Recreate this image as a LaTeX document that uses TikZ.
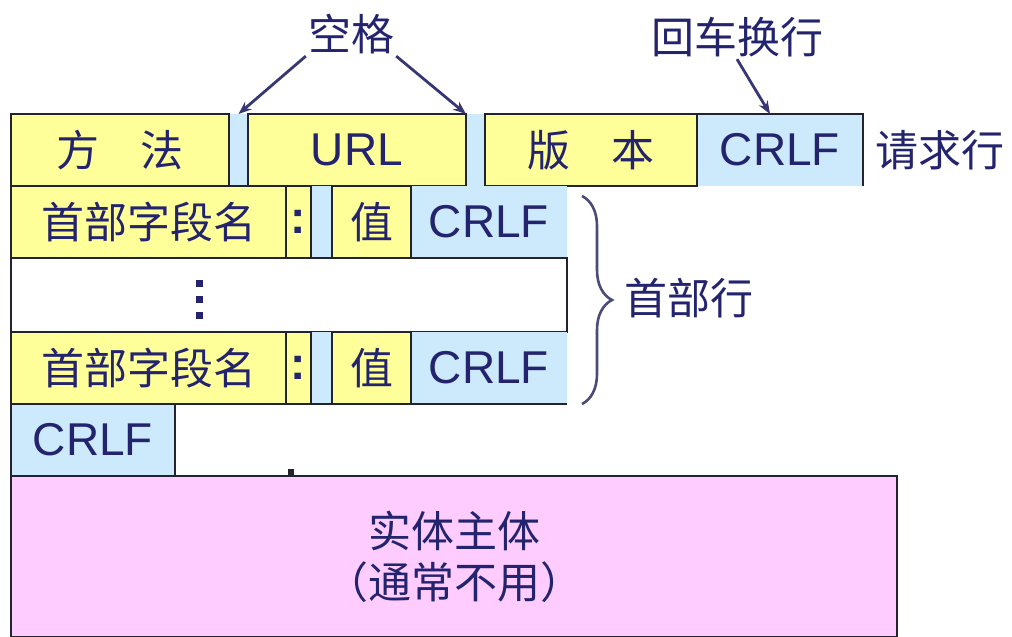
\documentclass[tikz,border=0pt]{standalone}
\usepackage{fontspec}
\setmainfont{Liberation Sans}
\newfontfamily\cjk{Noto Sans CJK SC}
\usetikzlibrary{arrows.meta,decorations.pathreplacing}
\definecolor{ylw}{RGB}{255,255,153}
\definecolor{blu}{RGB}{204,234,252}
\definecolor{pnk}{RGB}{255,204,255}
\definecolor{edgec}{RGB}{35,35,45}
\definecolor{inkc}{RGB}{35,35,110}
\definecolor{arrc}{RGB}{55,55,115}
\definecolor{brcc}{RGB}{75,75,120}
\begin{document}
\begin{tikzpicture}[x=1pt,y=-1pt,
  cell/.style={anchor=north west,inner sep=0pt,outer sep=0pt,text=inkc,minimum height=72pt},
  ycell/.style={cell,fill=ylw,draw=edgec,line width=1.6pt},
  bcell/.style={cell,fill=blu},
  cj/.style={font=\cjk\fontsize{43}{51}\selectfont},
  la/.style={font=\fontsize{46}{52}\selectfont},
  lbl/.style={cj,text=inkc,inner sep=2pt},
  edgeline/.style={draw=edgec,line width=1.6pt},
  arrowline/.style={draw=arrc,line width=2.8pt,-{Stealth[length=13pt,width=10pt]}},
  bracestyle/.style={draw=brcc,line width=2.6pt,decorate,decoration={brace,amplitude=30pt}}
]
\useasboundingbox (0,0) rectangle (1012,637);

% ---- request line ----
\node[bcell,minimum width=19pt] (g1) at (229,114) {};
\node[bcell,minimum width=19pt] (g2) at (466,114) {};
\node[bcell,la,minimum width=166pt] (crlf1) at (697,114) {CRLF\hspace{36pt}};
\node[ycell,cj,minimum width=218pt] (method) at (11,114) {方\hspace{0.95em}法};
\node[ycell,la,minimum width=218pt] (url) at (248,114) {URL};
\node[ycell,cj,minimum width=212pt] (ver) at (485,114) {版\hspace{0.95em}本};
\draw[edgeline] (crlf1.north west) -- (crlf1.north east) -- (crlf1.south east);

% ---- header line 1 ----
\node[bcell,minimum width=21pt] (g3) at (311,186) {};
\node[bcell,la,minimum width=156pt] (crlf2) at (411,186) {CRLF};
\node[ycell,cj,minimum width=275pt] (name1) at (11,186) {首部字段名\hspace{14pt}};
\node[ycell,la,minimum width=25pt] (colon1) at (286,186) {\textbf{:}};
\node[ycell,cj,minimum width=79pt] (val1) at (332,186) {值};

% ---- dots row ----
\node[cell,draw=edgec,line width=1.6pt,minimum width=556pt,minimum height=74pt] (dots) at (11,258) {};
\fill[inkc] (196,280) rectangle (203,287);
\fill[inkc] (196,296) rectangle (203,303);
\fill[inkc] (196,312) rectangle (203,319);

% ---- header line 2 ----
\node[bcell,minimum width=21pt] (g4) at (311,332) {};
\node[bcell,la,minimum width=156pt] (crlf4) at (411,332) {CRLF};
\node[ycell,cj,minimum width=275pt] (name2) at (11,332) {首部字段名\hspace{14pt}};
\node[ycell,la,minimum width=25pt] (colon2) at (286,332) {\textbf{:}};
\node[ycell,cj,minimum width=79pt] (val2) at (332,332) {值};
\draw[edgeline] (name2.south west) -- (crlf4.south east);

% ---- empty line ----
\node[bcell,la,draw=edgec,line width=1.6pt,minimum width=164pt] (crlf5) at (11,404) {CRLF\hspace{16pt}};

% ---- body ----
\node[cell,cj,fill=pnk,draw=edgec,line width=1.6pt,minimum width=886pt,minimum height=161pt,align=center] (body) at (11,476) {实体主体\\（通常不用）};
\fill[edgec] (288,469) rectangle (294,476);

% ---- labels ----
\node[lbl] (sp) at (351,34) {空格};
\node[lbl] (hc) at (737,37) {回车换行};
\node[lbl,anchor=west] (req) at (873,150) {请求行};
\node[lbl,anchor=west] (hdr) at (622,298) {首部行};

\draw[arrowline] (sp.south west) -- (g1.north);
\draw[arrowline] (sp.south east) -- (g2.north west);
\draw[arrowline] (hc.south) -- ([xshift=-10pt]crlf1.north);
\draw[bracestyle] ([xshift=15pt,yshift=-10pt]crlf2.north east) -- ([xshift=15pt]crlf4.south east);
\end{tikzpicture}
\end{document}
